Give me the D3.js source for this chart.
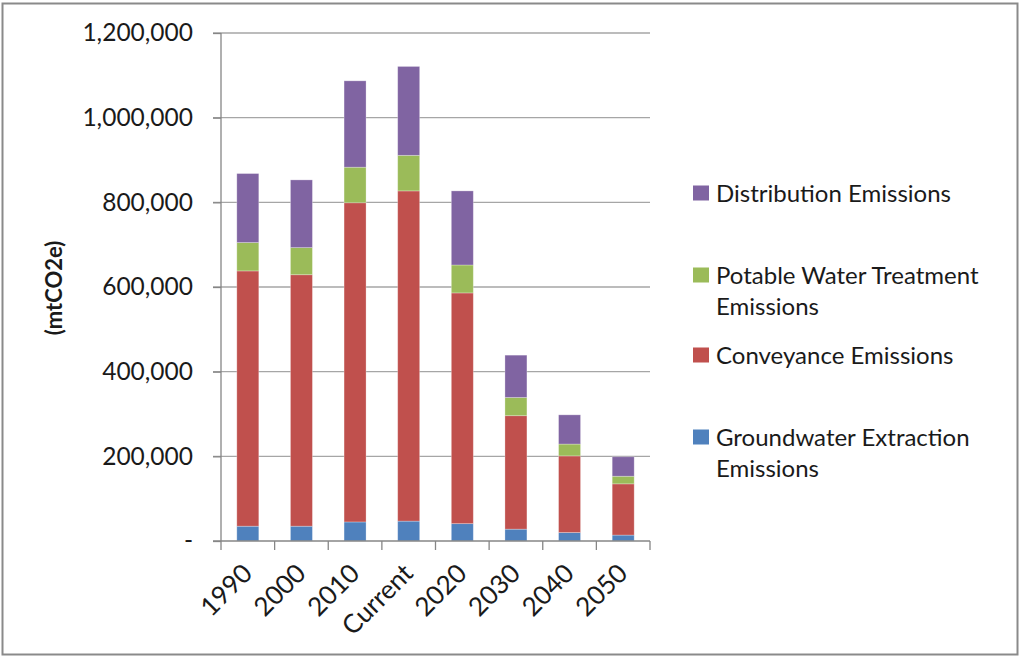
<!DOCTYPE html>
<html><head><meta charset="utf-8">
<script src="https://cdn.jsdelivr.net/npm/d3@7"></script>
<style>body{margin:0;background:#fff}svg{display:block}text{font-family:Lato,"Open Sans",sans-serif;fill:#1a1a1a}</style>
</head><body>
<svg id="c" width="1019" height="656"></svg>
<script>
const categories = ["1990","2000","2010","Current","2020","2030","2040","2050"];
const groundwater = [35000, 35000, 45000, 47000, 41000, 28000, 20000, 14000];
const conveyance = [603000, 594000, 754000, 780000, 545000, 268000, 181000, 121000];
const treatment = [67000, 64000, 84000, 84000, 66000, 43000, 28000, 18000];
const distribution = [163000, 160000, 204000, 210000, 175000, 100000, 69000, 46000];
const yTicks = [0, 200000, 400000, 600000, 800000, 1000000, 1200000];
const seriesKeys = ["groundwater","conveyance","treatment","distribution"];
const seriesNames = {
  distribution: ["Distribution Emissions"],
  treatment: ["Potable Water Treatment", "Emissions"],
  conveyance: ["Conveyance Emissions"],
  groundwater: ["Groundwater Extraction", "Emissions"]
};
const colors = {groundwater:"#4F81BD", conveyance:"#C0504D", treatment:"#9BBB59", distribution:"#8064A2"};

const svg = d3.select("#c");
svg.append("rect").attr("x",2.5).attr("y",3.5).attr("width",1015).attr("height",651)
  .attr("fill","#fff").attr("stroke","#8a8a8a").attr("stroke-width",2);

const x = d3.scaleBand().domain(categories).range([221,650]).paddingInner(0.59).paddingOuter(0.295);
const y = d3.scaleLinear().domain([0,1200000]).range([541,33]);

// gridlines
svg.append("g").selectAll("line").data(yTicks.filter(d=>d>0)).join("line")
  .attr("x1",213).attr("x2",650).attr("y1",d=>y(d)).attr("y2",d=>y(d))
  .attr("stroke","#a6a6a6").attr("stroke-width",1.3);

const rows = categories.map((c,i)=>({cat:c, groundwater:groundwater[i], conveyance:conveyance[i], treatment:treatment[i], distribution:distribution[i]}));
const stack = d3.stack().keys(seriesKeys)(rows);
svg.append("g").selectAll("g").data(stack).join("g")
  .attr("fill",d=>colors[d.key])
  .selectAll("rect").data(d=>d).join("rect")
  .attr("x",d=>x(d.data.cat)).attr("width",x.bandwidth())
  .attr("y",d=>y(d[1])).attr("height",d=>y(d[0])-y(d[1]))
  .attr("stroke","rgba(255,255,255,0.35)").attr("stroke-width",0.8);

// y axis
const yAxis = d3.axisLeft(y).tickValues(yTicks).tickSize(8).tickPadding(20)
  .tickFormat(d=> d===0 ? "-" : d3.format(",")(d));
const gy = svg.append("g").attr("transform","translate(221,0)").call(yAxis);
gy.select(".domain").attr("stroke","#868686").attr("stroke-width",1.3).attr("d","M0,33V541");
gy.selectAll(".tick line").attr("stroke","#868686").attr("stroke-width",1.3);
gy.selectAll(".tick text").attr("font-size",24.5).attr("font-family","Lato").attr("fill","#1a1a1a");

// x axis
const xAxis = d3.axisBottom(x).tickSize(0).tickFormat(d=>d);
const gx = svg.append("g").attr("transform","translate(0,541)").call(xAxis);
gx.select(".domain").attr("stroke","#868686").attr("stroke-width",1.3).attr("d","M213,0H650");
const step = x.step();
gx.selectAll(".sep").data(d3.range(categories.length+1)).join("line")
  .attr("x1",i=>221+i*step).attr("x2",i=>221+i*step).attr("y1",0).attr("y2",9)
  .attr("stroke","#868686").attr("stroke-width",1.3);
gx.selectAll(".tick text").attr("font-size",26).attr("font-family","Lato").attr("fill","#1a1a1a")
  .attr("text-anchor","end").attr("dy",0).attr("y",0)
  .attr("transform","translate(6,34) rotate(-45)");

// y title
svg.append("text").attr("transform","translate(62,288) rotate(-90)")
  .attr("text-anchor","middle").attr("font-size",22).attr("font-weight","bold").text("(mtCO2e)");

// legend
const legendItems = [
  {key:"distribution", y:193},
  {key:"treatment", y:275},
  {key:"conveyance", y:355},
  {key:"groundwater", y:437}
];
const lg = svg.append("g");
legendItems.forEach(it=>{
  lg.append("rect").attr("x",693).attr("y",it.y-7.5).attr("width",16).attr("height",15).attr("fill",colors[it.key]);
  seriesNames[it.key].forEach((t,j)=>{
    lg.append("text").attr("x",716).attr("y",it.y+j*31).attr("dy","0.36em").attr("font-size",24).text(t);
  });
});
</script>
</body></html>
